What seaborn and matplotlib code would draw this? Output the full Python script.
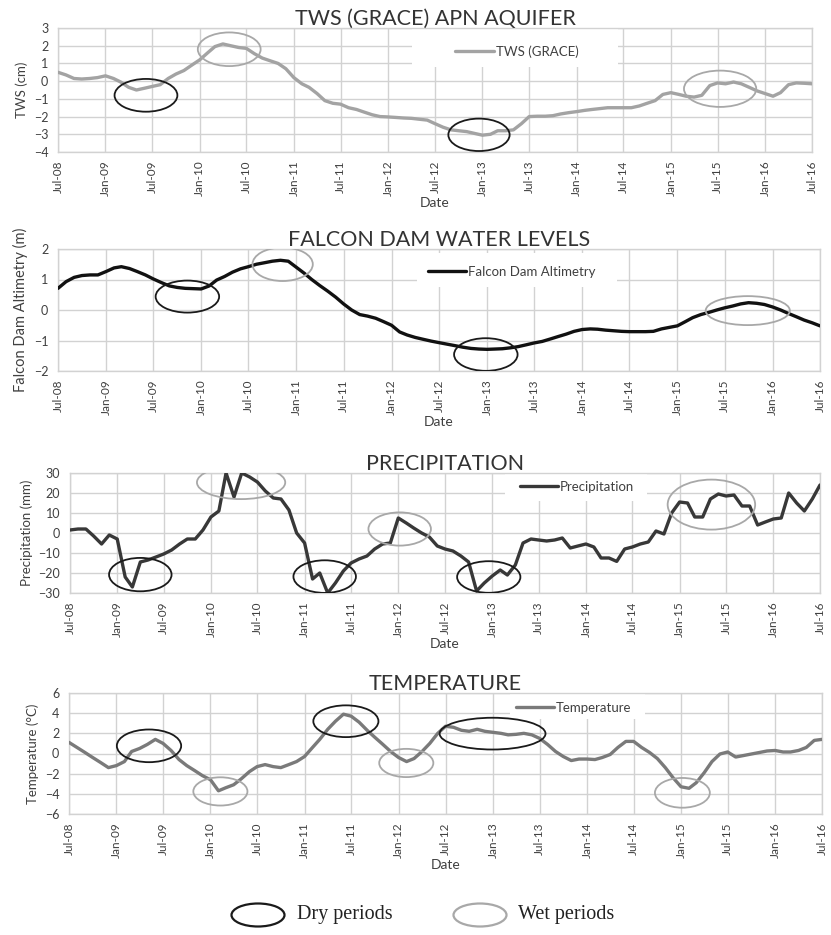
import numpy as np
import pandas as pd
import matplotlib
matplotlib.use("Agg")
import matplotlib.pyplot as plt
import matplotlib.dates as mdates
from matplotlib.patches import Ellipse, Rectangle
from matplotlib.lines import Line2D
import seaborn as sns

# ---------------- data (monthly, Jul-2008 .. Jul-2016) ----------------
start_month = "2008-07-01"
n_months = 97

tws_cm = [0.5, 0.35, 0.15, 0.12, 0.15, 0.2, 0.3, 0.15, -0.05, -0.35,
          -0.5, -0.4, -0.3, -0.2, 0.15, 0.4, 0.6, 0.9, 1.2, 1.6,
          1.95, 2.1, 2.0, 1.9, 1.85, 1.55, 1.3, 1.15, 1.0, 0.7,
          0.2, -0.15, -0.35, -0.7, -1.1, -1.25, -1.3, -1.5, -1.6, -1.75,
          -1.9, -2.0, -2.02, -2.05, -2.08, -2.1, -2.15, -2.2, -2.4, -2.6,
          -2.75, -2.8, -2.85, -2.95, -3.05, -3.0, -2.8, -2.8, -2.75, -2.4,
          -2.0, -1.98, -1.98, -1.95, -1.85, -1.78, -1.72, -1.65, -1.6, -1.55,
          -1.5, -1.5, -1.5, -1.5, -1.4, -1.25, -1.1, -0.75, -0.65, -0.75,
          -0.85, -0.9, -0.8, -0.25, -0.1, -0.15, -0.05, -0.15, -0.35, -0.55,
          -0.7, -0.85, -0.65, -0.2, -0.1, -0.12, -0.15]

falcon_m = [0.71, 0.93, 1.07, 1.13, 1.15, 1.15, 1.26, 1.38, 1.42, 1.36,
            1.26, 1.15, 1.02, 0.9, 0.79, 0.74, 0.71, 0.7, 0.69, 0.79,
            0.98, 1.1, 1.24, 1.35, 1.42, 1.5, 1.55, 1.6, 1.63, 1.6,
            1.4, 1.2, 1.0, 0.8, 0.62, 0.42, 0.2, 0.0, -0.15, -0.2,
            -0.27, -0.38, -0.5, -0.72, -0.82, -0.9, -0.96, -1.02, -1.07, -1.12,
            -1.17, -1.22, -1.26, -1.28, -1.29, -1.28, -1.27, -1.24, -1.2, -1.14,
            -1.08, -1.03, -0.95, -0.87, -0.79, -0.7, -0.64, -0.62, -0.63, -0.66,
            -0.68, -0.7, -0.71, -0.71, -0.71, -0.7, -0.62, -0.57, -0.52, -0.38,
            -0.25, -0.15, -0.08, 0.0, 0.07, 0.13, 0.2, 0.24, 0.22, 0.18,
            0.1, 0.0, -0.11, -0.22, -0.33, -0.42, -0.52]

precip_mm = [1.5, 2, 2, -1.5, -5.5, -1, -3, -22, -27, -14.5,
             -13.5, -12, -10.5, -8.5, -5.5, -3, -3, 1.5, 8, 11,
             30, 18, 30, 28, 25.5, 21, 17.5, 17, 11.5, 0,
             -5, -23, -20, -30, -25, -19, -15, -13, -11.5, -8,
             -5.5, -5, 7.5, 5, 2.5, 0, -2, -6.5, -8, -9,
             -11.5, -14.5, -29, -25, -21.5, -18.5, -21, -16, -5, -3,
             -3.5, -4, -3.5, -2.5, -7.5, -6.5, -5.5, -7, -12.5, -12.5,
             -14.2, -8, -7, -5.5, -4.5, 1, -0.5, 10, 15.5, 15,
             8, 8, 17, 19.5, 18.5, 19, 13.5, 13.5, 4, 5.5,
             7, 7.5, 20, 15, 11, 17, 24]

temp_c = [1.1, 0.6, 0.1, -0.4, -0.9, -1.4, -1.2, -0.8, 0.2, 0.5,
          0.9, 1.4, 1.0, 0.3, -0.6, -1.2, -1.7, -2.2, -2.6, -3.7,
          -3.4, -3.1, -2.5, -1.8, -1.3, -1.1, -1.3, -1.4, -1.1, -0.8,
          -0.3, 0.6, 1.4, 2.4, 3.2, 3.9, 3.7, 3.1, 2.3, 1.6,
          0.9, 0.2, -0.4, -0.8, -0.5, 0.2, 1.0, 2.0, 2.7, 2.6,
          2.3, 2.2, 2.4, 2.2, 2.1, 2.0, 1.85, 1.9, 2.0, 1.85,
          1.5, 0.9, 0.2, -0.3, -0.7, -0.55, -0.55, -0.6, -0.4, -0.1,
          0.6, 1.2, 1.2, 0.6, 0.1, -0.5, -1.4, -2.4, -3.3, -3.45,
          -2.9, -1.9, -0.8, -0.05, 0.15, -0.35, -0.2, -0.05, 0.1, 0.25,
          0.3, 0.15, 0.15, 0.3, 0.6, 1.3, 1.4]

titles = ["TWS (GRACE) APN AQUIFER", "FALCON DAM WATER LEVELS",
          "PRECIPITATION", "TEMPERATURE"]
ylabels = ["TWS (cm)", "Falcon Dam Altimetry (m)", "Precipitation (mm)",
           "Temperature (°C)"]
series_names = ["TWS (GRACE)", "Falcon Dam Altimetry", "Precipitation",
                "Temperature"]
yticks = [list(range(-4, 4)), list(range(-2, 3)),
          list(range(-30, 31, 10)), list(range(-6, 7, 2))]

# highlighted periods: (kind, centre month index, centre value, width in months, height)
periods = [
    [("dry", 11.2, -0.8, 8.0, 1.85), ("wet", 21.8, 1.8, 8.0, 1.9),
     ("dry", 53.6, -3.03, 7.8, 1.83), ("wet", 84.3, -0.43, 9.2, 2.05)],
    [("dry", 16.3, 0.44, 8.0, 1.05), ("wet", 28.3, 1.5, 7.6, 1.1),
     ("dry", 53.9, -1.46, 8.0, 1.07), ("wet", 86.9, -0.02, 10.6, 0.95)],
    [("dry", 9.0, -20.8, 8.0, 16.7), ("wet", 21.9, 25.3, 11.3, 16.7),
     ("dry", 32.6, -21.8, 8.0, 16.3), ("wet", 42.2, 2.0, 8.0, 16.6),
     ("dry", 53.6, -22.0, 8.1, 15.8), ("wet", 82.1, 14.2, 11.2, 25.0)],
    [("dry", 10.2, 0.76, 8.2, 3.24), ("wet", 19.3, -3.76, 6.9, 2.8),
     ("dry", 35.3, 3.2, 8.3, 3.15), ("wet", 43.0, -0.94, 6.9, 2.8),
     ("dry", 54.0, 1.97, 13.5, 3.15), ("wet", 78.2, -3.9, 7.0, 2.95)],
]

# ---------------- styling ----------------
line_colors = ["#a3a3a3", "#111111", "#383838", "#7a7a7a"]
ell_colors = {"dry": "#1a1a1a", "wet": "#a8a8a8"}
grid_c = "#d2d2d2"
text_c = "#404040"

W, H = 831, 935
ax_px = [(58, 28, 812, 152), (58, 249, 820, 371), (70, 473, 820, 593),
         (69, 693, 822, 814)]
ylabel_size = [9.5, 10.5, 9.5, 9.5]
legend_box = [(0.47, 0.687, 0.743, 0.995), (0.471, 0.69, 0.733, 0.967),
              (0.58, 0.767, 0.77, 0.99), (0.586, 0.787, 0.765, 0.99)]
legend_anchor = [(0.527, 0.809), (0.485, 0.815), (0.60, 0.887), (0.593, 0.878)]

sns.set_theme(style="white")
plt.rcParams["font.family"] = ["Lato", "DejaVu Sans"]

dates = pd.date_range(start_month, periods=n_months, freq="MS")
df = pd.DataFrame({"Date": dates, "tws": tws_cm, "falcon": falcon_m,
                   "precip": precip_mm, "temp": temp_c})
cols = ["tws", "falcon", "precip", "temp"]

fig = plt.figure(figsize=(W / 100, H / 100), dpi=100)
x0num = mdates.date2num(dates[0])
day_per_month = 30.4375

for i, col in enumerate(cols):
    l, t, r, b = ax_px[i]
    ax = fig.add_axes([l / W, 1 - b / H, (r - l) / W, (b - t) / H])
    ax.set_axisbelow(True)
    ax.grid(True, color=grid_c, linewidth=1.0)
    sns.lineplot(data=df, x="Date", y=col, ax=ax, color=line_colors[i],
                 linewidth=2.4, legend=False, zorder=3)
    ax.set_xlim(dates[0], dates[-1])
    ax.set_ylim(yticks[i][0], yticks[i][-1])
    ax.set_yticks(yticks[i])
    ax.set_xticks(dates[::6])
    ax.set_xticklabels([d.strftime("%b-%y") for d in dates[::6]],
                       rotation=90, fontsize=8.5, color=text_c)
    ax.tick_params(axis="y", labelsize=9, labelcolor=text_c, length=0, pad=7)
    ax.tick_params(axis="x", length=0, pad=6)
    for s in ax.spines.values():
        s.set_color(grid_c)
        s.set_linewidth(1.0)
    ax.set_title(titles[i], fontsize=15.5, color="#333333", pad=2)
    ax.set_ylabel(ylabels[i], fontsize=ylabel_size[i], color=text_c,
                  labelpad=4)
    ax.set_xlabel("Date", fontsize=10, color=text_c, labelpad=1)

    bx0, by0, bx1, by1 = legend_box[i]
    ax.add_patch(Rectangle((bx0, by0), bx1 - bx0, by1 - by0,
                           transform=ax.transAxes, facecolor="white",
                           edgecolor="none", zorder=1))
    handle = Line2D([], [], color=line_colors[i], linewidth=2.4)
    ax.legend([handle], [series_names[i]], loc="center left",
              bbox_to_anchor=legend_anchor[i], frameon=False, fontsize=9.5,
              handlelength=2.9, handletextpad=0.15, borderpad=0,
              borderaxespad=0, labelcolor=text_c)

    for kind, cm, cv, wm, hv in periods[i]:
        ax.add_patch(Ellipse((x0num + cm * day_per_month, cv),
                             wm * day_per_month, hv, facecolor="none",
                             edgecolor=ell_colors[kind], linewidth=1.3,
                             zorder=4))

# bottom legend for periods
leg_items = [("dry", 258, "Dry periods", 297), ("wet", 480, "Wet periods", 518)]
ly = 915
for kind, ex, label, tx in leg_items:
    fig.patches.append(Ellipse((ex / W, 1 - ly / H), 53 / W, 23 / H,
                               transform=fig.transFigure, facecolor="none",
                               edgecolor=ell_colors[kind], linewidth=1.6))
    fig.text(tx / W, 1 - ly / H, label, fontsize=14.5, color="#222222",
             family=["Liberation Serif", "DejaVu Serif"], va="center",
             ha="left")

fig.savefig("out.png", dpi=100, facecolor="white")
